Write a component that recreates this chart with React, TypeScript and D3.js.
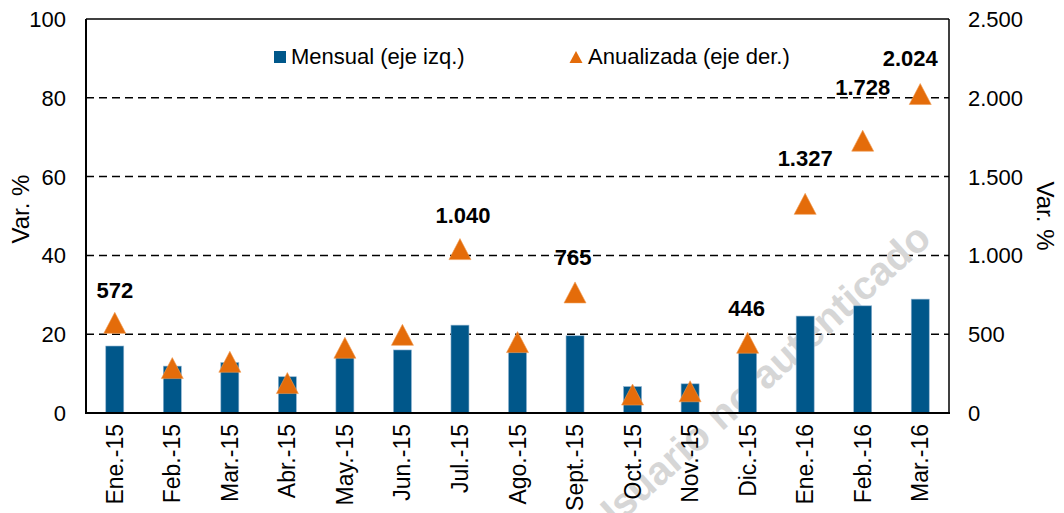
import React from "react";
import * as d3 from "d3";

const categories = ["Ene.-15","Feb.-15","Mar.-15","Abr.-15","May.-15","Jun.-15","Jul.-15","Ago.-15","Sept.-15","Oct.-15","Nov.-15","Dic.-15","Ene.-16","Feb.-16","Mar.-16"];
const mensual = [17.0, 11.9, 12.8, 9.2, 14.3, 16.0, 22.3, 15.5, 19.6, 6.7, 7.4, 15.5, 24.6, 27.2, 28.9];
const anualizada = [572, 285, 325, 190, 414, 496, 1040, 450, 765, 117, 138, 446, 1327, 1728, 2024];
const labeledIdx = [0, 6, 8, 11, 12, 13, 14];
const leftTicks = [0, 20, 40, 60, 80, 100];
const rightTicks = [0, 500, 1000, 1500, 2000, 2500];
const seriesNames = ["Mensual (eje izq.)", "Anualizada (eje der.)"];
const axisTitle = "Var. %";
const watermark = "Usuario no autenticado";

// label placement offsets (dx, dy) relative to marker
const labelOffsets: Record<number, [number, number]> = {
  0: [0, -25], 6: [3, -26], 8: [-2, -27], 11: [-1, -27], 12: [0, -38], 13: [0, -46], 14: [-10, -28],
};

const W = 1064, H = 513;
const L = 86, R = 949, T = 19, B = 413;
const FONT = "Liberation Sans, Arial, sans-serif";
const BLUE = "#00578A";
const ORANGE = "#E46C0A";

const loc = d3.formatLocale({ decimal: ",", thousands: ".", grouping: [3], currency: ["", ""] });
const fmt = loc.format(",d");

function tri(cx: number, cy: number, w = 22, h = 21) {
  const p = d3.path();
  p.moveTo(cx, cy - h / 2);
  p.lineTo(cx + w / 2, cy + h / 2);
  p.lineTo(cx - w / 2, cy + h / 2);
  p.closePath();
  return p.toString();
}

export default function App() {
  const x = d3.scaleBand<string>().domain(categories).range([L, R]).padding(0);
  const yL = d3.scaleLinear().domain([0, 100]).range([B, T]);
  const yR = d3.scaleLinear().domain([0, 2500]).range([B, T]);
  const bw = 18;
  const cx = (c: string) => (x(c) as number) + x.bandwidth() / 2;

  return (
    <svg width={W} height={H} style={{ position: "absolute", left: 0, top: 0, background: "#fff" }} fontFamily={FONT}>
      <rect width={W} height={H} fill="#fff" />
      {/* gridlines */}
      {leftTicks.filter(t => t > 0 && t < 100).map(t => (
        <line key={t} x1={L} x2={R} y1={yL(t)} y2={yL(t)} stroke="#000" strokeWidth={1.5} strokeDasharray="8,5" />
      ))}
      {/* watermark */}
      <text x={768} y={390} transform="rotate(-42 768 390)" textAnchor="middle" fontSize={40} fontWeight="bold" fill="#d6d6d6">{watermark}</text>
      {/* bars */}
      {categories.map((c, i) => (
        <rect key={c} x={cx(c) - bw / 2} y={yL(mensual[i])} width={bw} height={B - yL(mensual[i])} fill={BLUE} stroke="#8fb3d0" strokeWidth={0.6} />
      ))}
      {/* triangles */}
      {categories.map((c, i) => (
        <path key={c} d={tri(cx(c), yR(anualizada[i]))} fill={ORANGE} stroke="#f09a50" strokeWidth={0.6} />
      ))}
      {/* data labels */}
      {labeledIdx.map(i => {
        const [dx, dy] = labelOffsets[i];
        return (
          <text key={i} x={cx(categories[i]) + dx} y={yR(anualizada[i]) + dy} textAnchor="middle" fontSize={22} fontWeight="bold" fill="#000">{fmt(anualizada[i])}</text>
        );
      })}
      {/* frame */}
      <line x1={L} x2={R} y1={T} y2={T} stroke="#000" strokeWidth={1.5} />
      <line x1={L} x2={L} y1={T} y2={B} stroke="#000" strokeWidth={2} />
      <line x1={R} x2={R} y1={T} y2={B} stroke="#000" strokeWidth={1.5} />
      <line x1={L - 1} x2={R + 1} y1={B} y2={B} stroke="#000" strokeWidth={2} />
      {/* left ticks */}
      {leftTicks.map(t => (
        <text key={t} x={66} y={yL(t)} dy="0.36em" textAnchor="end" fontSize={22} fill="#000">{t}</text>
      ))}
      {/* right ticks */}
      {rightTicks.map(t => (
        <text key={t} x={968} y={yR(t)} dy="0.36em" textAnchor="start" fontSize={22} fill="#000">{fmt(t)}</text>
      ))}
      {/* category labels */}
      {categories.map(c => (
        <text key={c} transform={`translate(${cx(c) + 8},${424}) rotate(-90)`} textAnchor="end" fontSize={23} fill="#000">{c}</text>
      ))}
      {/* axis titles */}
      <text transform="translate(29,209) rotate(-90)" textAnchor="middle" fontSize={24} fill="#000">{axisTitle}</text>
      <text transform="translate(1037,216) rotate(90)" textAnchor="middle" fontSize={24} fill="#000">{axisTitle}</text>
      {/* legend */}
      <rect x={274} y={51} width={12} height={12} fill={BLUE} />
      <text x={291} y={64} fontSize={22} fill="#000">{seriesNames[0]}</text>
      <path d={tri(576, 57, 13, 12)} fill={ORANGE} />
      <text x={588} y={64} fontSize={22} fill="#000">{seriesNames[1]}</text>
    </svg>
  );
}
